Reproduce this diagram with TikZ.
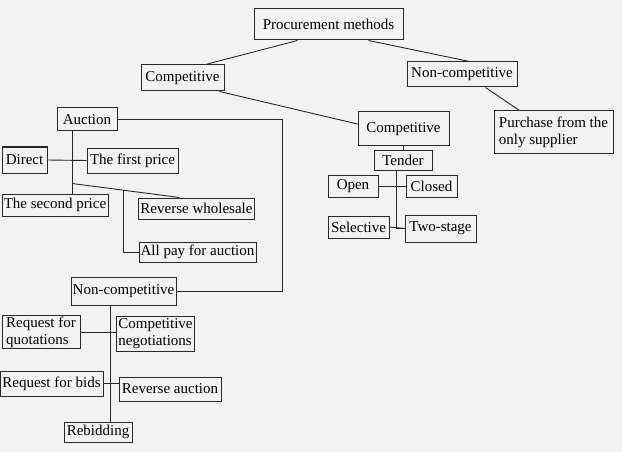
\documentclass[tikz,border=0pt]{standalone}
\usepackage{fontspec}
\setmainfont{Liberation Serif}
\usepackage{tikz}
\usetikzlibrary{calc}
\definecolor{bgc}{RGB}{242,242,242}
\definecolor{lnc}{RGB}{40,40,40}

\begin{document}
\begin{tikzpicture}[x=1pt,y=-1pt,
    box/.style={draw=lnc,line width=1pt,inner sep=1.5pt,font=\fontsize{15}{17}\selectfont,align=left},
    link/.style={draw=lnc,line width=0.9pt}]
    \fill[bgc] (0,0) rectangle (622,452);
    \useasboundingbox (0,0) rectangle (622,452);
    % top level
    \node[box,minimum width=149pt,minimum height=31pt] (pm) at (328.5,24.5) {Procurement methods};
    \node[box,minimum width=83pt,minimum height=26pt] (compa) at (182.5,78) {Competitive};
    \node[box,minimum width=110pt,minimum height=25pt] (nonca) at (462,74.5) {Non-competitive};
    \node[box,minimum width=91pt,minimum height=34pt] (compb) at (403.5,129) {Competitive};
    \node[box,minimum width=119pt,minimum height=42pt] (purch) at (553.5,132) {Purchase from the\\only supplier};
    % tender
    \node[box,minimum width=58pt,minimum height=20pt] (tender) at (403,160) {Tender};
    \node[box,minimum width=50pt,minimum height=22pt] (open) at (353,186) {Open};
    \node[box,minimum width=51pt,minimum height=22pt] (closed) at (431.5,186) {Closed};
    \node[box,minimum width=61pt,minimum height=22pt] (select) at (358.5,227) {Selective};
    \node[box,minimum width=71pt,minimum height=27pt] (twost) at (440.5,228.5) {Two-stage};
    % auction
    \node[box,minimum width=60pt,minimum height=23pt] (auction) at (87,119.5) {Auction};
    \node[box,minimum width=45pt,minimum height=26pt] (direct) at (24.5,160) {Direct};
    \node[box,minimum width=91pt,minimum height=25pt] (first) at (132.5,160.5) {The first price};
    \node[box,minimum width=106pt,minimum height=22pt] (second) at (55,205) {The second price};
    \node[box,minimum width=115pt,minimum height=21pt] (revw) at (196.5,208.5) {Reverse wholesale};
    \node[box,minimum width=117pt,minimum height=20pt] (allpay) at (197.5,252) {All pay for auction};
    % non-competitive
    \node[box,minimum width=105pt,minimum height=28pt] (noncb) at (123.5,291) {Non-competitive};
    \node[box,minimum width=78pt,minimum height=30pt] (rfq) at (41,332) {Request for\\quotations};
    \node[box,minimum width=77pt,minimum height=35pt] (compneg) at (155.5,333.5) {Competitive\\negotiations};
    \node[box,minimum width=103pt,minimum height=25pt] (rfb) at (51.5,383.5) {Request for bids};
    \node[box,minimum width=102pt,minimum height=24pt] (revauc) at (170,389) {Reverse auction};
    \node[box,minimum width=68pt,minimum height=20pt] (rebid) at (98,432) {Rebidding};

    % connectors
    \draw[link] ([xshift=44pt]pm.south west) -- ([xshift=65pt]compa.north west);
    \draw[link] ([xshift=115pt]pm.south west) -- ([xshift=63pt]nonca.north west);
    \draw[link] ([xshift=79pt]compa.south west) -- ([yshift=5pt]compb.west);
    \draw[link] ([xshift=-32pt]nonca.south east) -- ([xshift=26pt]purch.north west);
    \draw[link] (compb.south) -- (compb.south |- tender.north);
    \draw[link] ([xshift=-7pt]tender.south) |- (twost.west);
    \draw[link] (select.east) -- (twost.west);
    \draw[link] (open.east) -- (closed.west);

    \draw[link] (auction.east) -| ([xshift=106pt]noncb.east) -- (noncb.east);
    \draw[link] ([xshift=-15pt]auction.south) -- ([xshift=-15pt]auction.south |- second.north);
    \draw[link] (direct.east) -- (first.west);
    \coordinate (asplit) at ([xshift=-15pt,yshift=-52pt]auction.south);
    \coordinate (bsplit) at ($(asplit)!0.48!([xshift=41pt]revw.north west)$);
    \draw[link] (asplit) -- ([xshift=41pt]revw.north west);
    \draw[link] (bsplit) |- (allpay.west);

    \draw[link] ([xshift=-13.5pt]noncb.south) -- ([xshift=-13.5pt]noncb.south |- rebid.north);
    \draw[link] (rfq.east) -- (rfq.east -| compneg.west);
    \draw[link] (rfb.east) -- (rfb.east -| revauc.west);
\end{tikzpicture}
\end{document}
